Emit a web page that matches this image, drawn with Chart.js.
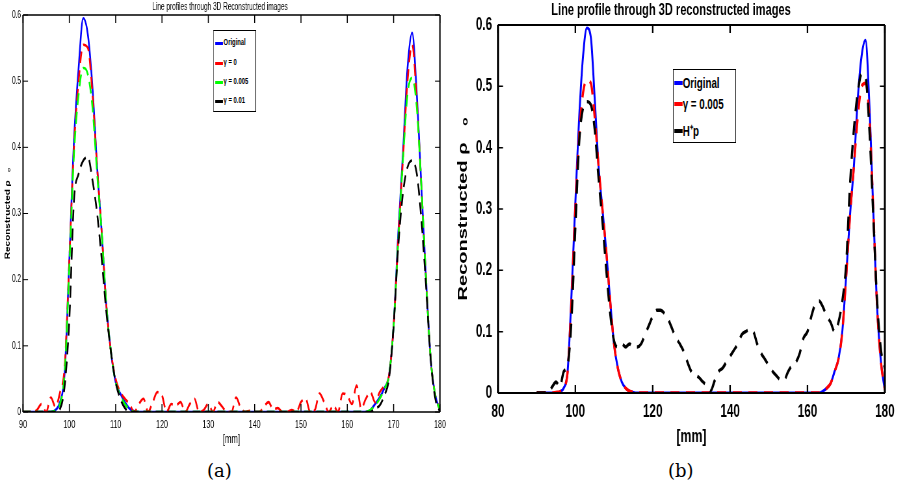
<!DOCTYPE html>
<html><head><meta charset="utf-8">
<script src="https://cdn.jsdelivr.net/npm/chart.js@4.4.1/dist/chart.umd.min.js"></script>
<style>
html,body{margin:0;padding:0;background:#fff;width:900px;height:485px;overflow:hidden;}
.wrap{position:absolute;top:0;width:692px;height:450px;transform:scaleX(0.65);transform-origin:0 0;}
#wa{left:0}#wb{left:450px}
canvas{display:block}
.cap{position:absolute;font-family:'DejaVu Serif','Liberation Serif',serif;font-size:18px;color:#000;}
.legend{position:absolute;background:#fff;border:1px solid #000;border-left-width:1.6px;border-right-width:1.6px;box-sizing:border-box;font-family:'Liberation Sans',Arial,sans-serif;color:#000;}
.legend .it{position:absolute;white-space:nowrap;}
.legend .sw{position:absolute;}
</style></head>
<body>
<div class="wrap" id="wa"><canvas id="ca" width="692" height="450"></canvas>
  <div class="legend" id="la" style="left:328px;top:30px;width:66px;height:82px"></div></div>
<div class="wrap" id="wb"><canvas id="cb" width="692" height="450"></canvas>
  <div class="legend" id="lb" style="left:343px;top:69px;width:97px;height:74px"></div></div>
<div class="cap" style="left:207px;top:460px">(a)</div>
<div class="cap" style="left:668px;top:460px">(b)</div>
<script>
const positionsMm = [90,91,92,93,94,95,96,97,98,99,100,101,102,103,104,105,106,107,108,109,110,111,112,113,114,115,116,117,118,119,120,121,122,123,124,125,126,127,128,129,130,131,132,133,134,135,136,137,138,139,140,141,142,143,144,145,146,147,148,149,150,151,152,153,154,155,156,157,158,159,160,161,162,163,164,165,166,167,168,169,170,171,172,173,174,175,176,177,178,179,180];

const xTicksA = [90,100,110,120,130,140,150,160,170,180];
const xTicksB = [80,100,120,140,160,180];
const yTicks = [0,0.1,0.2,0.3,0.4,0.5,0.6];

const titleA = 'Line profiles through 3D Reconstructed images';
const titleB = 'Line profile through 3D reconstructed images';
const yTitle = 'Reconstructed \u03c1   \u2092';
const xTitle = '[mm]';

const labelsA = ['Original','\u03b3 = 0','\u03b3 = 0.005','\u03b3 = 0.01'];
const labelsB = ['Original','\u03b3 = 0.005','H\u207ap'];

// panel (a)
const originalA = [0,0,0,0,0,0,0,0.003,0.015,0.06,0.23,0.41,0.52,0.595,0.57,0.49,0.37,0.27,0.16,0.09,0.045,0.028,0.015,0.005,0.001,
0,0,0,0,0,0,0,0,0,0,0,0,0,0,0,0,0,0,0,0,0,0,0,0,0,0,0,0,0,0,0,0,0,0,0,0,0,0,0,0,0,0,0,0,0,0,0,0,0,
0,0.003,0.012,0.022,0.036,0.055,0.13,0.27,0.39,0.52,0.573,0.48,0.34,0.2,0.08,0.025,0.003];
const gamma0A = [0,0,0,0.003,0.012,0,0.022,0.008,0.03,0.07,0.23,0.40,0.50,0.555,0.55,0.48,0.37,0.27,0.16,0.09,0.05,0.03,0.02,0.012,
0,0.012,0.02,0,0.015,0.03,0.025,0,0.012,0.01,0.015,0,0.012,0.02,0,0.003,0.012,0,0.015,0.008,0,0,0.022,0.006,0,0.002,0,0,0.008,0.015,0.004,0.006,0,0,0.003,0,0.015,0.02,0,0.003,0.028,0.015,0,0.01,0,0.028,0.025,0.012,0.04,0.005,
0.02,0.03,0.015,0.03,0.04,0.055,0.13,0.26,0.38,0.50,0.555,0.47,0.34,0.2,0.08,0.025,0.003];
const gamma005A = [0,0,0,0,0,0,0,0.002,0.012,0.06,0.22,0.39,0.48,0.52,0.51,0.46,0.36,0.27,0.16,0.09,0.045,0.025,0.012,0.004,0,
0,0,0,0,0,0,0,0,0,0,0,0,0,0,0,0,0,0,0,0,0,0,0,0,0,0,0,0,0,0,0,0,0,0,0,0,0,0,0,0,0,0,0,0,0,0,0,0,0,
0,0.003,0.01,0.02,0.035,0.055,0.13,0.26,0.38,0.48,0.505,0.46,0.34,0.2,0.08,0.025,0.003];
const gamma01A = [0,0,0,0,0,0,0,0,0.005,0.04,0.14,0.32,0.36,0.38,0.385,0.35,0.30,0.23,0.15,0.09,0.045,0.02,0.006,0,0,
0,0,0,0,0,0,0,0,0,0,0,0,0,0,0,0,0,0,0,0,0,0,0,0,0,0,0,0,0,0,0,0,0,0,0,0,0,0,0,0,0,0,0,0,0,0,0,0,0,
0,0,0.005,0.01,0.025,0.05,0.13,0.25,0.33,0.37,0.38,0.36,0.29,0.19,0.08,0.02,0];

// panel (b)
const originalB = [0,0,0,0,0,0,0.002,0.008,0.035,0.16,0.31,0.45,0.55,0.595,0.58,0.48,0.37,0.30,0.23,0.15,0.08,0.04,0.018,0.008,0.003,0.001,
0,0,0,0,0,0,0,0,0,0,0,0,0,0,0,0,0,0,0,0,0,0,0,0,0,0,0,0,0,0,0,0,0,0,0,0,0,0,0,0,0,0,0,0,0,0,0,0,
0.003,0.008,0.016,0.035,0.055,0.10,0.19,0.29,0.37,0.48,0.55,0.575,0.47,0.30,0.14,0.05,0.005];
const gammaB = [0,0,0,0,0,0.001,0.002,0.008,0.035,0.15,0.30,0.42,0.49,0.51,0.505,0.45,0.37,0.30,0.23,0.15,0.08,0.04,0.018,0.008,0.003,0.001,
0,0,0,0,0,0,0,0,0,0,0,0,0,0,0,0,0,0,0,0,0,0,0,0,0,0,0,0,0,0,0,0,0,0,0,0,0,0,0,0,0,0,0,0,0,0,0,0,
0.003,0.008,0.016,0.035,0.055,0.10,0.19,0.29,0.37,0.45,0.50,0.505,0.45,0.30,0.14,0.05,0.005];
const pinvB = [0,0,0,0,0.01,0.018,0.01,0.035,0.045,0.12,0.27,0.41,0.465,0.475,0.47,0.43,0.35,0.28,0.20,0.13,0.085,0.075,0.08,0.075,0.08,0.075,0.075,0.08,0.095,0.11,0.125,0.135,0.135,0.13,0.12,0.105,0.09,0.08,0.068,0.05,0.035,0.03,0.025,0.018,0.012,0.004,0.02,0.035,0.04,0.05,0.06,0.07,0.08,0.095,0.1,0.103,0.1,0.08,0.065,0.055,0.045,0.035,0.028,0.022,0.022,0.035,0.045,0.05,0.065,0.09,0.1,0.125,0.145,0.15,0.14,0.125,0.115,0.10,0.115,0.15,0.21,0.34,0.43,0.49,0.52,0.515,0.43,0.29,0.15,0.07,0.04];

const FONT = "'Liberation Sans',Arial,Helvetica,sans-serif";
const K = 0.65; // horizontal squeeze of the wrappers

function pts(arr){ return positionsMm.map((x,i)=>({x:x,y:arr[i]})); }

const framePlugin = {
  id:'frame',
  afterDraw(chart, args, o){
    const {ctx} = chart; const a = chart.chartArea;
    const xs = chart.scales.x, ys = chart.scales.y;
    ctx.save();
    ctx.strokeStyle='#000';
    ctx.lineWidth=o.lw; ctx.beginPath();
    ctx.moveTo(a.left,a.top); ctx.lineTo(a.right,a.top);
    ctx.moveTo(a.left,a.bottom); ctx.lineTo(a.right,a.bottom); ctx.stroke();
    ctx.lineWidth=o.lw/K; ctx.beginPath();
    ctx.moveTo(a.left,a.top); ctx.lineTo(a.left,a.bottom);
    ctx.moveTo(a.right,a.top); ctx.lineTo(a.right,a.bottom); ctx.stroke();
    ctx.lineWidth=o.tw/K; ctx.beginPath();
    xs.ticks.forEach(t=>{const p=xs.getPixelForValue(t.value);
      ctx.moveTo(p,a.bottom); ctx.lineTo(p,a.bottom-o.tv);
      ctx.moveTo(p,a.top); ctx.lineTo(p,a.top+o.tv);});
    ctx.stroke();
    ctx.lineWidth=o.tw; ctx.beginPath();
    ys.ticks.forEach(t=>{const p=ys.getPixelForValue(t.value);
      ctx.moveTo(a.left,p); ctx.lineTo(a.left+o.th/K,p);
      ctx.moveTo(a.right,p); ctx.lineTo(a.right-o.th/K,p);});
    ctx.stroke(); ctx.restore();
  }
};

function makeChart(id, cfg){
  return new Chart(document.getElementById(id), {
    type:'line',
    data:{datasets:cfg.datasets},
    plugins:[framePlugin],
    options:{
      responsive:false, animation:false, events:[],
      layout:{padding:{left:0,right:cfg.padRight,top:0,bottom:0}},
      elements:{point:{radius:0},line:{cubicInterpolationMode:'monotone',borderCapStyle:'butt'}},
      plugins:{
        legend:{display:false}, tooltip:{enabled:false},
        title:{display:true,text:cfg.title,color:'#000',font:{family:FONT,size:cfg.titleSize,weight:cfg.titleWeight,lineHeight:1},padding:cfg.titlePad},
        frame:cfg.frame
      },
      scales:{
        x:{type:'linear',min:cfg.xTicks[0],max:cfg.xTicks[cfg.xTicks.length-1],
          afterBuildTicks:s=>{s.ticks=cfg.xTicks.map(v=>({value:v}));},
          afterFit:s=>{s.height=cfg.xH;},
          grid:{display:false,drawTicks:false}, border:{display:false},
          ticks:{color:'#000',font:{family:FONT,size:cfg.tickSize,weight:cfg.tickWeight},padding:cfg.xTickPad,maxRotation:0,autoSkip:false,callback:v=>String(v)},
          title:{display:true,text:xTitle,color:'#000',font:{family:FONT,size:cfg.xTitleSize,weight:cfg.tickWeight,lineHeight:1.2},padding:{top:0,bottom:cfg.xTitlePad}}},
        y:{type:'linear',min:0,max:0.6,
          afterBuildTicks:s=>{s.ticks=yTicks.map(v=>({value:v}));},
          afterFit:s=>{s.width=cfg.yW;},
          grid:{display:false,drawTicks:false}, border:{display:false},
          ticks:{color:'#000',font:{family:FONT,size:cfg.yTickSize,weight:cfg.tickWeight},padding:cfg.yTickPad,autoSkip:false,callback:v=>String(v)},
          title:{display:true,text:yTitle,color:'#000',font:{family:FONT,size:cfg.yTitleSize,weight:'bold',lineHeight:1.2},padding:{top:cfg.yTitlePad,bottom:0}}}
      }
    }
  });
}

const dsA = [
  {label:labelsA[0],data:pts(originalA),borderColor:'#0000ff',borderWidth:2.6,order:3},
  {label:labelsA[1],data:pts(gamma0A),borderColor:'#ff0000',borderWidth:2.6,borderDash:[12,7],order:2},
  {label:labelsA[2],data:pts(gamma005A),borderColor:'#00ff00',borderWidth:2.6,borderDash:[12,7],order:1},
  {label:labelsA[3],data:pts(gamma01A),borderColor:'#000000',borderWidth:2.6,borderDash:[12,7],order:0}
];
const dsB = [
  {label:labelsB[0],data:pts(originalB),borderColor:'#0000ff',borderWidth:3,order:2},
  {label:labelsB[1],data:pts(gammaB),borderColor:'#ff0000',borderWidth:3.4,borderDash:[14,10],order:1},
  {label:labelsB[2],data:pts(pinvB),borderColor:'#000000',borderWidth:3.4,borderDash:[14,10],order:0}
];

makeChart('ca',{datasets:dsA,title:titleA,titleSize:10,titleWeight:'normal',titlePad:{top:2,bottom:3},padRight:15,
  xTicks:xTicksA,xH:38,yW:35.4,tickSize:11,yTickSize:10,tickWeight:'normal',xTickPad:6,yTickPad:3,xTitleSize:12,xTitlePad:3,yTitleSize:10,yTitlePad:6,
  frame:{lw:1.3,tw:1,tv:8,th:5}});
makeChart('cb',{datasets:dsB,title:titleB,titleSize:17,titleWeight:'bold',titlePad:{top:2,bottom:6},padRight:12,
  xTicks:xTicksB,xH:57,yW:73.8,tickSize:18,yTickSize:18,tickWeight:'bold',xTickPad:8,yTickPad:9,xTitleSize:19,xTitlePad:2,yTitleSize:20,yTitlePad:8,
  frame:{lw:2,tw:1.5,tv:8,th:5}});

function buildLegend(id, ds, opt){
  const box=document.getElementById(id);
  ds.forEach((d,i)=>{
    const y=opt.rows[i];
    const sw=document.createElement('div'); sw.className='sw';
    sw.style.cssText=`left:${opt.swL}px;top:${y-opt.swH/2}px;width:${opt.swW}px;height:${opt.swH}px;background:${d.borderColor}`;
    box.appendChild(sw);
    const t=document.createElement('div'); t.className='it';
    t.style.cssText=`left:${opt.txL}px;top:${y-opt.fs*0.62}px;font-size:${opt.fs}px;line-height:${opt.fs*1.2}px;font-weight:bold`;
    t.textContent=d.label; box.appendChild(t);
  });
}
buildLegend('la',dsA,{rows:[12,32,51,70],swL:2,swW:12,swH:3,txL:15,fs:9});
buildLegend('lb',dsB,{rows:[13,34,61],swL:1,swW:13,swH:3.5,txL:14,fs:15});
</script>
</body></html>
